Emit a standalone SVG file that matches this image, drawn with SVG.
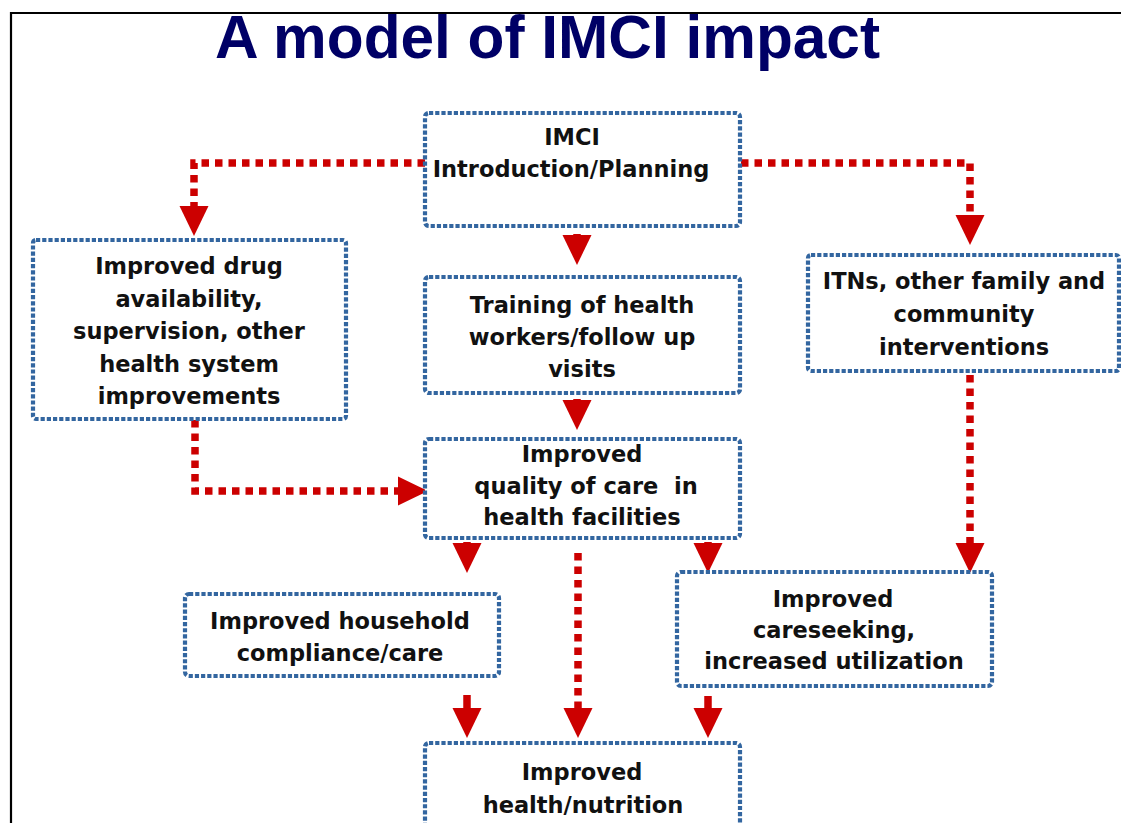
<svg xmlns="http://www.w3.org/2000/svg" width="1121" height="823" viewBox="0 0 1121 823">
<style>
.box{fill:#ffffff;stroke:#3366a0;stroke-width:4.2;stroke-dasharray:4.2 2}
.lbl{font-family:"DejaVu Sans","Verdana",sans-serif;font-weight:bold;font-size:22.5px;fill:#111111;text-anchor:middle}
.con{fill:none;stroke:#cc0000;stroke-width:7.5;stroke-dasharray:7.5 6}
.con,.stub{marker-end:url(#ah)}
.stub{fill:none;stroke:#cc0000;stroke-width:7.5}
.title{font-family:"Liberation Sans",Arial,sans-serif;font-weight:bold;font-size:62px;fill:#000066}
</style>
<defs>
<marker id="ah" markerUnits="userSpaceOnUse" markerWidth="32" markerHeight="32" refX="0" refY="14.5" orient="auto" overflow="visible">
<path d="M0,0 L30,14.5 L0,29 z" fill="#cc0000"/>
</marker>
<clipPath id="frameclip"><rect x="11" y="13" width="1110" height="810"/></clipPath>
</defs>
<rect x="0" y="0" width="1121" height="823" fill="#ffffff"/>
<g id="title" clip-path="url(#frameclip)">
<text class="title" x="215" y="58" textLength="665" lengthAdjust="spacingAndGlyphs">A model of IMCI impact</text>
</g>
<g id="frame" fill="none" stroke="#000000" stroke-width="2.2">
<path d="M11,823 V13 H1121"/>
</g>
<g id="connectors">
<path class="con" d="M425,163 H194 V206"/>
<path class="con" d="M741,163 H970 V215"/>
<path class="stub" d="M577,234 V235"/>
<path class="stub" d="M577,399 V400"/>
<path class="con" d="M195,420 V491 H398"/>
<path class="con" d="M970,375 V543"/>
<path class="stub" d="M467,542 V543"/>
<path class="stub" d="M708,542 V543"/>
<path class="con" d="M578,553 V708"/>
<path class="stub" d="M467,695 V708"/>
<path class="stub" d="M708,696 V708"/>
</g>
<g id="node-imci">
<rect class="box" x="425" y="113" width="315" height="113" rx="4"/>
<text class="lbl" x="572" y="145">IMCI</text>
<text class="lbl" x="571" y="177">Introduction/Planning</text>
</g>
<g id="node-training">
<rect class="box" x="425" y="277" width="315" height="116" rx="4"/>
<text class="lbl" x="582" y="313">Training of health</text>
<text class="lbl" x="582" y="345">workers/follow up</text>
<text class="lbl" x="582" y="377">visits</text>
</g>
<g id="node-drug">
<rect class="box" x="33" y="240" width="313" height="179" rx="3"/>
<text class="lbl" x="189" y="274">Improved drug</text>
<text class="lbl" x="189" y="307">availability,</text>
<text class="lbl" x="189" y="339">supervision, other</text>
<text class="lbl" x="189" y="372">health system</text>
<text class="lbl" x="189" y="404">improvements</text>
</g>
<g id="node-itns">
<rect class="box" x="808" y="255" width="311" height="116" rx="3"/>
<text class="lbl" x="964" y="289">ITNs, other family and</text>
<text class="lbl" x="964" y="322">community</text>
<text class="lbl" x="964" y="355">interventions</text>
</g>
<g id="node-quality">
<rect class="box" x="425" y="439" width="315" height="99" rx="4"/>
<text class="lbl" x="582" y="462">Improved</text>
<text class="lbl" x="586" y="494" xml:space="preserve">quality of care  in</text>
<text class="lbl" x="582" y="525">health facilities</text>
</g>
<g id="node-household">
<rect class="box" x="185" y="594" width="314" height="82" rx="4"/>
<text class="lbl" x="340" y="629">Improved household</text>
<text class="lbl" x="340" y="661">compliance/care</text>
</g>
<g id="node-careseeking">
<rect class="box" x="677" y="572" width="315" height="114" rx="4"/>
<text class="lbl" x="833" y="607">Improved</text>
<text class="lbl" x="834" y="638">careseeking,</text>
<text class="lbl" x="834" y="669">increased utilization</text>
</g>
<g id="node-health">
<rect class="box" x="425" y="743" width="315" height="110" rx="4"/>
<text class="lbl" x="582" y="780">Improved</text>
<text class="lbl" x="583" y="813">health/nutrition</text>
</g>
</svg>
